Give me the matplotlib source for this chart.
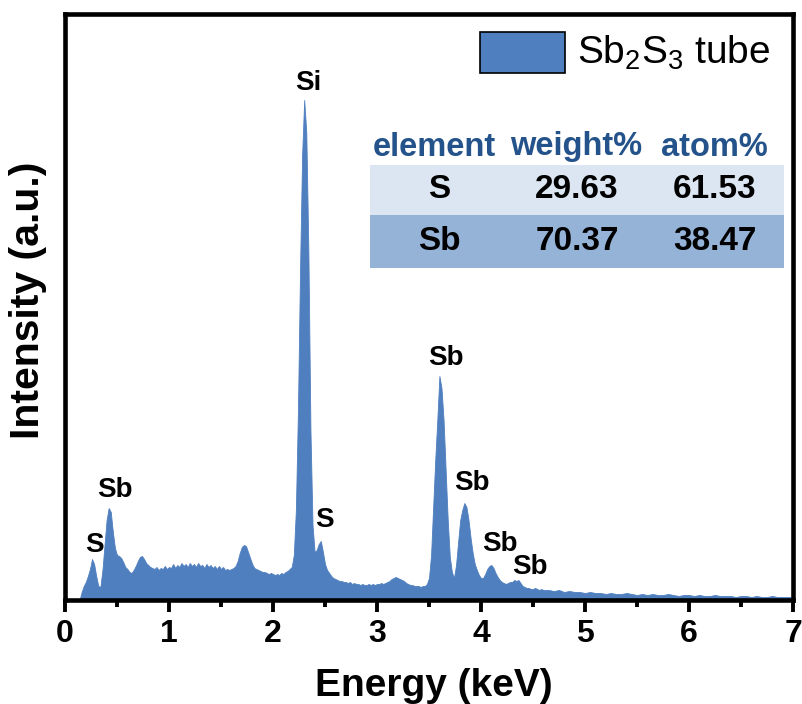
import numpy as np
import matplotlib
matplotlib.use("Agg")
import matplotlib.pyplot as plt
from matplotlib.patches import Rectangle

plt.rcParams["font.family"] = ["Liberation Sans", "DejaVu Sans"]

W, H = 802, 704
fill_color = "#4f7fbf"

# EDS spectrum (intensity in arbitrary units)
energy_fine = np.linspace(0.10, 4.58, 225)  # 0.02 keV steps
counts_fine = [
    0, 0, 0, 8, 14, 18, 24, 31, 41, 36,          # 0.10-0.28
    24, 14, 13, 30, 55, 80, 92, 88, 68, 52,      # 0.30-0.48
    45, 44, 42, 38, 33, 31, 28, 27, 30, 34,      # 0.50-0.68
    39, 43, 44, 41, 37, 35, 33, 32, 31, 33,      # 0.70-0.88
    30, 32, 31, 34, 31, 33, 32, 36, 32, 35,      # 0.90-1.08
    33, 37, 34, 36, 33, 37, 34, 36, 33, 37,      # 1.10-1.28
    34, 35, 32, 36, 33, 35, 32, 34, 31, 34,      # 1.30-1.48
    31, 33, 30, 31, 30, 31, 32, 34, 39, 47,      # 1.50-1.68
    53, 55, 54, 48, 42, 36, 32, 31, 30, 29,      # 1.70-1.88
    28, 28, 27, 26, 27, 26, 25, 26, 25, 27,      # 1.90-2.08
    26, 28, 29, 31, 33, 45, 90, 190, 330, 445,   # 2.10-2.28
    500, 468, 350, 170, 75, 48, 50, 56, 59, 48,  # 2.30-2.48
    36, 30, 27, 24, 22, 21, 20, 19, 19, 18,      # 2.50-2.68
    18, 17, 18, 16, 17, 16, 16, 15, 16, 15,      # 2.70-2.88
    15, 16, 15, 16, 15, 16, 16, 17, 16, 17,      # 2.90-3.08
    18, 19, 21, 22, 23, 22, 21, 20, 19, 17,      # 3.10-3.28
    16, 15, 15, 14, 14, 14, 13, 14, 14, 16,      # 3.30-3.48
    22, 45, 93, 140, 180, 224, 212, 180, 130, 80,  # 3.50-3.68
    43, 28, 22, 35, 58, 80, 90, 97, 93, 80,      # 3.70-3.88
    62, 47, 36, 30, 25, 22, 22, 26, 31, 34,      # 3.90-4.08
    35, 32, 27, 23, 20, 18, 17, 16, 17, 18,      # 4.10-4.28
    18, 20, 19, 20, 17, 14, 13, 12, 12, 11,      # 4.30-4.48
    11, 12, 11, 10, 11,                          # 4.50-4.58
]
energy_tail = np.linspace(4.60, 7.00, 49)  # 0.05 keV steps
counts_tail = [
    10, 10, 9, 10, 8, 9, 8, 8, 7, 8,
    7, 7, 6, 7, 6, 6, 7, 6, 5, 6,
    5, 6, 5, 5, 6, 5, 4, 5, 5, 4,
    5, 4, 4, 5, 4, 4, 4, 3, 4, 4,
    3, 4, 3, 3, 4, 3, 3, 3, 3,
]

energy = np.concatenate([energy_fine, energy_tail])
counts = np.array(counts_fine + counts_tail, dtype=float)

# peak labels: (text, energy keV, height)
peak_labels = [
    ("S", 0.28, 55), ("Sb", 0.48, 110), ("Si", 2.34, 517), ("S", 2.49, 80),
    ("Sb", 3.66, 242), ("Sb", 3.91, 117), ("Sb", 4.18, 56), ("Sb", 4.47, 33),
]

# composition table
tbl_header = ["element", "weight%", "atom%"]
tbl_elements = ["S", "Sb"]
tbl_weight = ["29.63", "70.37"]
tbl_atom = ["61.53", "38.47"]

fig = plt.figure(figsize=(W / 100, H / 100), dpi=100)
ax = fig.add_axes([65 / W, 104 / H, 728 / W, 586 / H])

ax.fill_between(energy, 0, counts, color=fill_color, lw=0.6, edgecolor=fill_color)

ax.set_xlim(0, 7)
ax.set_ylim(0, 586)
ax.set_xticks(np.arange(0, 8, 1))
ax.set_xticks(np.arange(0.5, 7, 1), minor=True)
ax.set_yticks([])
ax.tick_params(axis="x", which="major", direction="out", length=8.6, width=2.8,
               labelsize=23, pad=5)
ax.tick_params(axis="x", which="minor", direction="out", length=5, width=2.8)
for lab in ax.get_xticklabels():
    lab.set_fontweight("bold")
for sp in ax.spines.values():
    sp.set_linewidth(3.3)

for txt, xk, yk in peak_labels:
    ax.text(xk, yk, txt, ha="center", va="center", fontsize=20, fontweight="bold")


def px(x, y):
    return x / W, 1 - y / H


fig.text(*px(434, 686), "Energy (keV)", ha="center", va="center",
         fontsize=28, fontweight="bold")
fig.text(*px(28, 300), "Intensity (a.u.)", ha="center", va="center",
         rotation=90, fontsize=29.5, fontweight="bold")

# legend
lx, ly = px(480, 73)
fig.add_artist(Rectangle((lx, ly), 85 / W, 41 / H, transform=fig.transFigure,
                         facecolor=fill_color, edgecolor="black", lw=1.2))
fig.text(*px(577, 53), r"Sb$_\mathregular{2}$S$_\mathregular{3}$ tube",
         ha="left", va="center", fontsize=28)

# table
rows_y = [(165, 215, "#dce6f2"), (215, 268, "#95b3d7")]
for y0, y1, c in rows_y:
    rx, ry = px(370, y1)
    fig.add_artist(Rectangle((rx, ry), 414 / W, (y1 - y0) / H,
                             transform=fig.transFigure, facecolor=c,
                             edgecolor="none"))
col_x = [434, 576, 714]
for cx, t in zip(col_x, tbl_header):
    fig.text(*px(cx, 147), t, ha="center", va="center", fontsize=23.5,
             fontweight="bold", color="#24528a")
for i, yc in enumerate([190, 242]):
    vals = [tbl_elements[i], tbl_weight[i], tbl_atom[i]]
    for cx, t in zip([439, 577, 715], vals):
        fig.text(*px(cx, yc), t, ha="center", va="center", fontsize=24,
                 fontweight="bold", color="black")

fig.savefig("out.png", dpi=100)
